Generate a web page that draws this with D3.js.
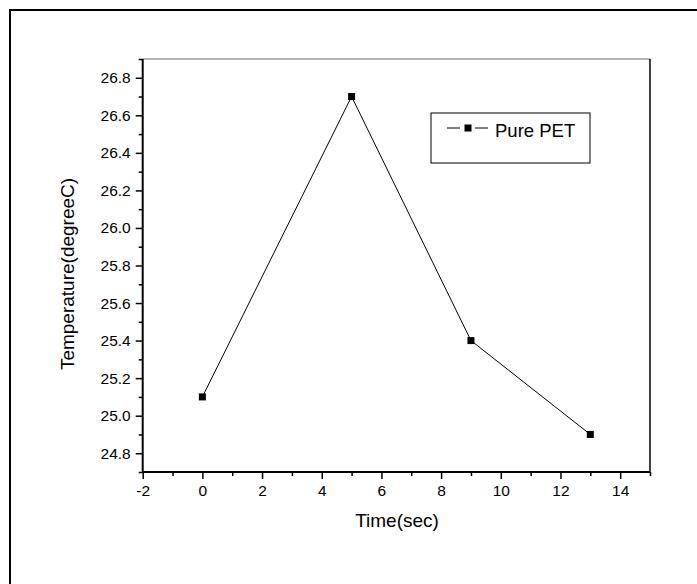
<!DOCTYPE html>
<html>
<head>
<meta charset="utf-8">
<script src="https://cdn.jsdelivr.net/npm/d3@7"></script>
<style>
  html, body { margin: 0; padding: 0; background: #fff; }
  svg { display: block; font-family: "Liberation Sans", Arial, sans-serif; }
</style>
</head>
<body>
<svg id="chart" width="697" height="584"></svg>
<script>
const timeValues = [0, 5, 9, 13];
const temperatureValues = [25.1, 26.7, 25.4, 24.9];
const seriesName = "Pure PET";
const xTickLabels = [-2, 0, 2, 4, 6, 8, 10, 12, 14];
const yTickLabels = [24.8, 25.0, 25.2, 25.4, 25.6, 25.8, 26.0, 26.2, 26.4, 26.6, 26.8];
const xTitle = "Time(sec)";
const yTitle = "Temperature(degreeC)";

const svg = d3.select("#chart");
const L = 142.7, R = 650, T = 59, B = 472;
const FONT = "Liberation Sans, Arial, sans-serif";

// outer frame (only top and left edges visible)
svg.append("rect").attr("x", 10).attr("y", 10).attr("width", 720).attr("height", 600)
  .attr("fill", "none").attr("stroke", "#000").attr("stroke-width", 2);

const x = d3.scaleLinear().domain([-2, 15]).range([L, R]);
const y = d3.scaleLinear().domain([24.7, 26.9]).range([B, T]);

// top & right frame
svg.append("line").attr("x1", L).attr("x2", R).attr("y1", T).attr("y2", T)
  .attr("stroke", "#666").attr("stroke-width", 1);
svg.append("line").attr("x1", R).attr("x2", R).attr("y1", T).attr("y2", B)
  .attr("stroke", "#000").attr("stroke-width", 1.5);

// x axis
const xMinor = d3.range(-1, 16, 2);
const gx = svg.append("g").attr("transform", `translate(0,${B})`);
gx.call(d3.axisBottom(x).tickValues(xMinor).tickSize(4).tickFormat(""))
  .call(g => g.select(".domain").remove());
gx.append("g").call(d3.axisBottom(x).tickValues(xTickLabels).tickSize(7).tickPadding(6)
  .tickFormat(d => String(d)));
gx.selectAll("line").attr("stroke", "#000").attr("stroke-width", 1.5);
gx.selectAll(".domain").attr("stroke", "#000").attr("stroke-width", 2).attr("d", `M${L},0H${R}`);
gx.selectAll("text").attr("font-size", 15.5).attr("fill", "#000").attr("font-family", FONT);

// y axis
const yMinor = d3.range(0, 12).map(i => +(24.7 + i * 0.2).toFixed(1));
const gy = svg.append("g").attr("transform", `translate(${L},0)`);
gy.call(d3.axisLeft(y).tickValues(yMinor).tickSize(4).tickFormat(""))
  .call(g => g.select(".domain").remove());
gy.append("g").call(d3.axisLeft(y).tickValues(yTickLabels).tickSize(7).tickPadding(5)
  .tickFormat(d => d.toFixed(1)));
gy.selectAll("line").attr("stroke", "#000").attr("stroke-width", 1.5);
gy.selectAll(".domain").attr("stroke", "#000").attr("stroke-width", 2).attr("d", `M0,${T}V${B}`);
gy.selectAll("text").attr("font-size", 15.5).attr("fill", "#000").attr("font-family", FONT);

// titles
svg.append("text").attr("x", 397).attr("y", 527).attr("text-anchor", "middle")
  .attr("font-size", 19).attr("fill", "#000").text(xTitle);
svg.append("text").attr("transform", `translate(74,274) rotate(-90)`)
  .attr("text-anchor", "middle").attr("font-size", 19).attr("fill", "#000").text(yTitle);

// series
const pts = timeValues.map((t, i) => [t, temperatureValues[i]]);
svg.append("path").datum(pts)
  .attr("d", d3.line().x(d => x(d[0])).y(d => y(d[1])))
  .attr("fill", "none").attr("stroke", "#000").attr("stroke-width", 1);
svg.selectAll("rect.pt").data(pts).enter().append("rect").attr("class", "pt")
  .attr("x", d => x(d[0]) - 3.5).attr("y", d => y(d[1]) - 3.5)
  .attr("width", 7).attr("height", 7).attr("fill", "#000");

// legend
const lg = svg.append("g");
lg.append("rect").attr("x", 431).attr("y", 113).attr("width", 159).attr("height", 50)
  .attr("fill", "#fff").attr("stroke", "#000").attr("stroke-width", 1);
lg.append("line").attr("x1", 447).attr("x2", 460).attr("y1", 128).attr("y2", 128)
  .attr("stroke", "#000").attr("stroke-width", 1);
lg.append("line").attr("x1", 475).attr("x2", 488).attr("y1", 128).attr("y2", 128)
  .attr("stroke", "#000").attr("stroke-width", 1);
lg.append("rect").attr("x", 464.5).attr("y", 124.5).attr("width", 7).attr("height", 7)
  .attr("fill", "#000");
lg.append("text").attr("x", 495).attr("y", 136.5).attr("font-size", 18.5).attr("fill", "#000")
  .text(seriesName);
</script>
</body>
</html>
